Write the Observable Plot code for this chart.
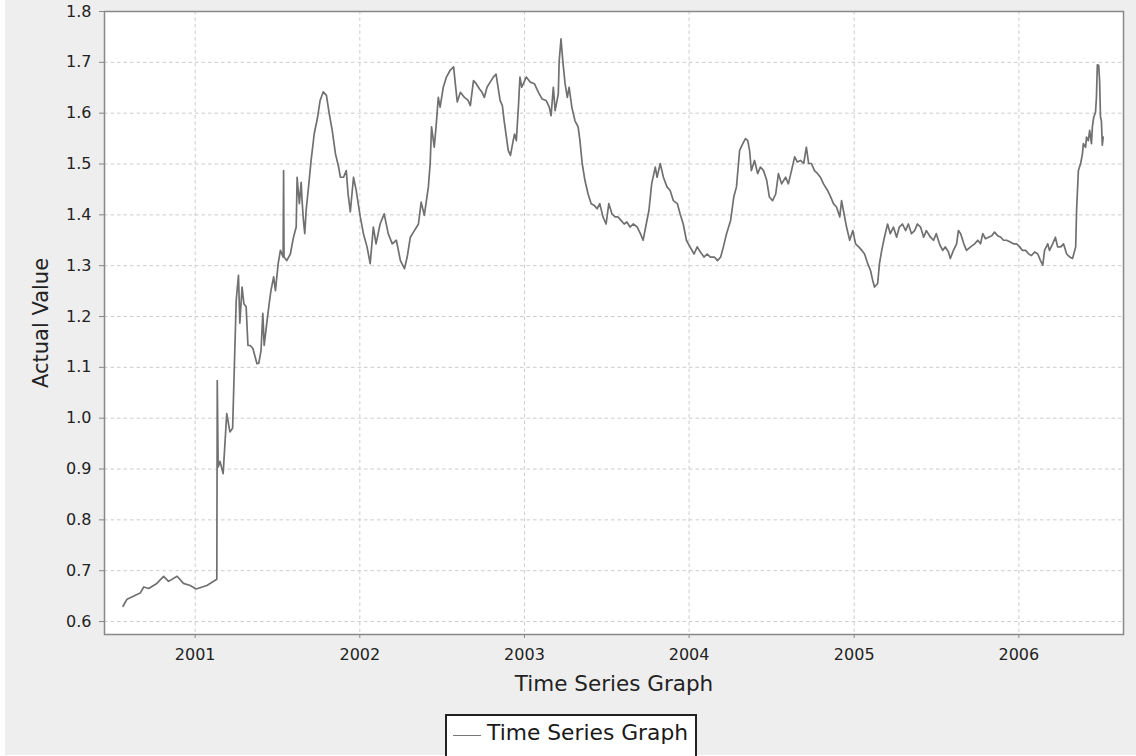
<!DOCTYPE html>
<html><head><meta charset="utf-8">
<script src="https://cdn.jsdelivr.net/npm/d3@7"></script>
<script src="https://cdn.jsdelivr.net/npm/@observablehq/plot@0.6"></script>
<style>
html,body{margin:0;padding:0;background:#fff;overflow:hidden;width:1136px;height:756px}
#panel{position:absolute;left:5px;top:0;width:1131px;height:755px;background:#eeeeee}
#chart{position:absolute;left:0;top:0}
#legend{position:absolute;left:445px;top:714px;width:252px;height:50px;background:#fff;border:2px solid #222;box-sizing:border-box;font-family:"DejaVu Sans";font-size:21.8px;color:#1a1a1a}
#legend .sw{position:absolute;left:6px;top:19px;width:28px;height:1px;background:#777}
#legend .lb{position:absolute;left:40px;top:6px;line-height:22px;white-space:nowrap}
</style></head>
<body>
<div id="panel"></div>
<div id="chart"></div>
<div id="legend"><div class="sw"></div><div class="lb">Time Series Graph</div></div>
<script>
const seriesName = "Time Series Graph";
const yLabel = "Actual Value";
const xLabel = "Time Series Graph";
const yTicks = [0.6,0.7,0.8,0.9,1.0,1.1,1.2,1.3,1.4,1.5,1.6,1.7,1.8];
const xTickYears = [2001,2002,2003,2004,2005,2006];

const days2000 = ["07-25","08-03","09-01","09-09","09-20","10-08","10-23","11-03","11-22","12-06","12-21"];
const vals2000 = [0.630,0.644,0.656,0.668,0.665,0.675,0.689,0.679,0.689,0.675,0.671];

const days2001 = ["01-03","01-27","02-18","02-19","02-21","02-25","03-04","03-12","03-19","03-25","03-27","04-02","04-07","04-10","04-15","04-19","04-24","04-28","05-03","05-09","05-18","05-22","05-27","05-31","06-03","06-09","06-14","06-18","06-24","06-28","07-04","07-09","07-15","07-16","07-17","07-23","07-31","08-07","08-13","08-15","08-20","08-24","08-26","08-29","09-01","09-04","09-10","09-15","09-22","09-29","10-05","10-12","10-19","10-25","11-01","11-08","11-15","11-19","11-26","12-02","12-06","12-11","12-18","12-24"];
const vals2001 = [0.664,0.671,0.683,1.074,0.904,0.915,0.891,1.009,0.973,0.980,1.042,1.232,1.281,1.187,1.258,1.225,1.219,1.143,1.143,1.137,1.107,1.108,1.133,1.206,1.143,1.189,1.225,1.251,1.278,1.251,1.304,1.330,1.317,1.487,1.317,1.310,1.323,1.356,1.376,1.474,1.422,1.464,1.428,1.389,1.363,1.409,1.461,1.507,1.560,1.590,1.625,1.642,1.635,1.600,1.565,1.520,1.494,1.474,1.474,1.487,1.441,1.406,1.474,1.448];

const days2002 = ["01-02","01-09","01-17","01-24","01-31","02-06","02-15","02-24","03-05","03-14","03-23","04-01","04-10","04-16","04-23","05-02","05-11","05-17","05-24","06-02","06-06","06-09","06-15","06-19","06-24","06-28","07-05","07-12","07-20","07-28","07-31","08-05","08-12","08-21","08-29","09-03","09-10","09-16","09-23","09-29","10-04","10-10","10-17","10-24","10-30","11-08","11-13","11-17","11-22","11-26","12-01","12-07","12-10","12-14","12-19","12-22","12-26"];
const vals2002 = [1.396,1.363,1.337,1.304,1.376,1.343,1.382,1.402,1.363,1.343,1.350,1.310,1.294,1.317,1.356,1.369,1.382,1.425,1.399,1.455,1.501,1.573,1.533,1.573,1.631,1.612,1.651,1.671,1.684,1.691,1.664,1.622,1.641,1.631,1.625,1.615,1.664,1.658,1.648,1.641,1.631,1.651,1.661,1.671,1.677,1.625,1.615,1.585,1.553,1.527,1.517,1.546,1.559,1.546,1.619,1.671,1.651];

const days2003 = ["01-05","01-14","01-23","02-01","02-09","02-18","02-25","03-01","03-06","03-10","03-17","03-19","03-23","03-27","04-01","04-06","04-10","04-16","04-23","04-30","05-04","05-09","05-15","05-22","05-29","06-04","06-11","06-17","06-24","07-01","07-07","07-14","07-21","07-27","08-03","08-10","08-16","08-23","08-30","09-08","09-15","09-21","09-28","10-04","10-10","10-18","10-22","10-29","11-05","11-13","11-20","11-27","12-06","12-12","12-19","12-26"];
const vals2003 = [1.671,1.661,1.658,1.641,1.628,1.625,1.612,1.595,1.651,1.605,1.638,1.703,1.746,1.703,1.658,1.631,1.651,1.612,1.585,1.573,1.546,1.501,1.468,1.441,1.422,1.419,1.412,1.422,1.396,1.382,1.422,1.402,1.396,1.396,1.389,1.382,1.386,1.376,1.382,1.376,1.363,1.350,1.382,1.409,1.461,1.494,1.474,1.501,1.474,1.455,1.448,1.428,1.422,1.402,1.382,1.350];

const days2004 = ["01-03","01-12","01-19","01-26","02-03","02-10","02-17","02-26","03-04","03-11","03-17","03-24","04-02","04-09","04-15","04-22","04-29","05-05","05-10","05-14","05-18","05-25","06-01","06-07","06-14","06-21","06-27","07-04","07-11","07-17","07-24","08-02","08-08","08-15","08-22","08-28","09-04","09-11","09-17","09-22","09-28","10-05","10-12","10-18","10-25","11-03","11-10","11-16","11-23","11-30","12-04","12-08","12-15","12-22","12-29"];
const vals2004 = [1.337,1.323,1.337,1.327,1.317,1.323,1.317,1.317,1.310,1.317,1.337,1.363,1.389,1.435,1.455,1.527,1.540,1.550,1.546,1.527,1.487,1.507,1.481,1.494,1.487,1.468,1.435,1.428,1.441,1.481,1.461,1.474,1.461,1.487,1.514,1.504,1.507,1.501,1.533,1.501,1.501,1.487,1.481,1.474,1.461,1.448,1.435,1.422,1.415,1.396,1.428,1.409,1.376,1.350,1.369];

const days2005 = ["01-04","01-11","01-18","01-24","01-31","02-06","02-11","02-15","02-22","02-26","03-03","03-09","03-16","03-22","03-29","04-05","04-11","04-18","04-25","05-01","05-08","05-15","05-21","05-28","06-04","06-10","06-19","06-26","07-02","07-09","07-16","07-22","07-29","08-02","08-09","08-16","08-20","08-25","09-01","09-07","09-16","09-25","10-02","10-08","10-13","10-19","10-26","11-02","11-08","11-15","11-22","11-28","12-05","12-14","12-20","12-27"];
const vals2005 = [1.343,1.337,1.330,1.323,1.304,1.291,1.271,1.258,1.265,1.304,1.330,1.356,1.382,1.363,1.376,1.356,1.376,1.382,1.369,1.382,1.363,1.369,1.382,1.376,1.356,1.369,1.356,1.350,1.363,1.343,1.330,1.337,1.327,1.314,1.330,1.343,1.369,1.363,1.343,1.330,1.337,1.343,1.350,1.343,1.363,1.353,1.356,1.359,1.366,1.359,1.356,1.350,1.350,1.346,1.343,1.343];

const days2006 = ["01-03","01-09","01-16","01-23","01-29","02-05","02-12","02-18","02-23","02-27","03-06","03-10","03-17","03-23","03-28","04-04","04-10","04-17","04-24","04-30","05-07","05-09","05-13","05-18","05-22","05-24","05-29","05-31","06-04","06-07","06-11","06-13","06-16","06-20","06-22","06-24","06-27","06-29","07-01","07-03","07-05","07-07"];
const vals2006 = [1.337,1.330,1.330,1.323,1.320,1.327,1.323,1.310,1.301,1.330,1.343,1.330,1.343,1.356,1.337,1.337,1.343,1.323,1.317,1.314,1.337,1.409,1.487,1.501,1.520,1.540,1.533,1.553,1.546,1.566,1.540,1.573,1.592,1.602,1.631,1.695,1.694,1.664,1.592,1.585,1.537,1.553];

const years = [
  [2000, days2000, vals2000], [2001, days2001, vals2001], [2002, days2002, vals2002],
  [2003, days2003, vals2003], [2004, days2004, vals2004], [2005, days2005, vals2005],
  [2006, days2006, vals2006]
];
const parse = d3.utcParse("%Y-%m-%d");
const data = years.flatMap(([yr, ds, vs]) => ds.map((d, i) => ({date: parse(`${yr}-${d}`), value: vs[i]})));
const xTicks = xTickYears.map(y => new Date(Date.UTC(y, 0, 1)));

const chart = Plot.plot({
  width: 1136, height: 700,
  marginLeft: 104, marginRight: 13, marginTop: 11, marginBottom: 66,
  style: {fontFamily: "DejaVu Sans", fontSize: "16px", background: "transparent", overflow: "visible"},
  x: {type: "utc", domain: [parse("2000-06-14"), parse("2006-08-21")]},
  y: {domain: [0.5745, 1.8]},
  marks: [
    Plot.frame({fill: "white", stroke: null}),
    Plot.gridY(yTicks, {stroke: "#cccccc", strokeOpacity: 1, strokeDasharray: "3.5,3"}),
    Plot.gridX(xTicks, {stroke: "#cccccc", strokeOpacity: 1, strokeDasharray: "3.5,3"}),
    Plot.axisY(yTicks, {tickFormat: d3.format(".1f"), tickSize: 5, tickPadding: 8, stroke: "#888", fill: "#222", label: null}),
    Plot.axisX(xTicks, {tickFormat: d3.utcFormat("%Y"), tickSize: 4, tickPadding: 10, stroke: "#888", fill: "#222", label: null}),
    Plot.lineY(data, {x: "date", y: "value", stroke: "#707070", strokeWidth: 1.7}),
    Plot.frame({stroke: "#888", strokeWidth: 1.5}),
    Plot.text([yLabel], {text: d => d, frameAnchor: "left", textAnchor: "middle", dx: -63, rotate: -90, fontSize: 21, fill: "#222"}),
    Plot.text([xLabel], {text: d => d, frameAnchor: "bottom", textAnchor: "middle", dy: 56, fontSize: 21.5, fill: "#222"})
  ]
});
document.getElementById("chart").appendChild(chart);
document.querySelector("#legend .lb").textContent = seriesName;
</script>
</body></html>
